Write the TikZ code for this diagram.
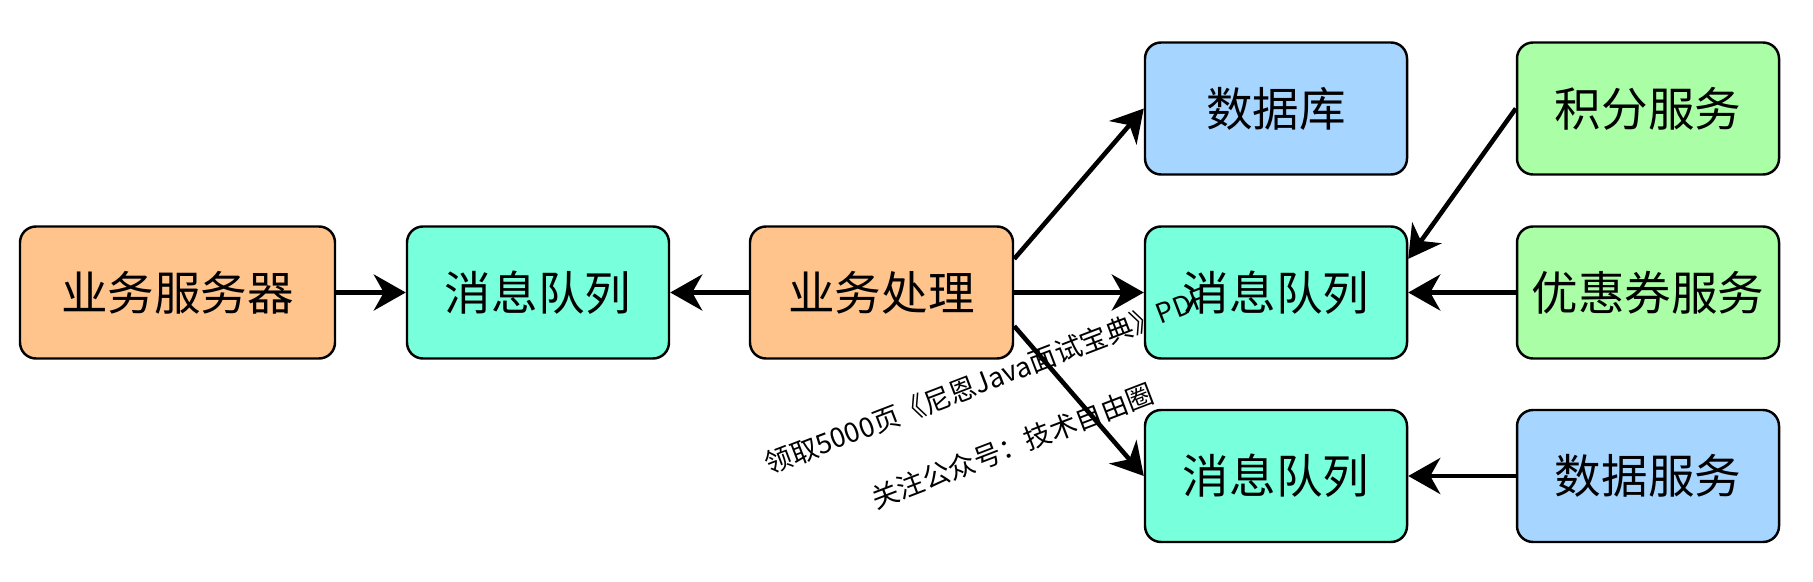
\documentclass[tikz,border=0pt]{standalone}
\usepackage{fontspec}
\setmainfont{Noto Sans CJK SC}
\usetikzlibrary{calc,arrows.meta}

\definecolor{bizorange}{HTML}{FFC48C}
\definecolor{mqteal}{HTML}{78FFDC}
\definecolor{dataBlue}{HTML}{A6D5FF}
\definecolor{svcgreen}{HTML}{AAFFA6}

\begin{document}
\begin{tikzpicture}[scale=1.0,
	box/.style={draw, line width=1.4pt, rounded corners=0.32cm,
		minimum width=5.24cm, minimum height=2.64cm,
		font=\fontsize{26.5}{30}\selectfont},
	flow/.style={line width=2.6pt,
		-{Stealth[length=0.64cm,width=0.72cm,inset=0.2cm]}},
	wmtext/.style={rotate=21, font=\fontsize{15.5}{18}\selectfont}]

% canvas %{{{2

	\useasboundingbox (0,0) rectangle (36.26,11.62);

% left column %{{{2

	\node[box, fill=bizorange, minimum width=6.3cm] (srv) at (3.55,5.77) {业务服务器};
	\node[box, fill=mqteal] (mqa) at (10.76,5.77) {消息队列};
	\node[box, fill=bizorange, minimum width=5.26cm] (biz) at (17.63,5.77) {业务处理};

% middle column %{{{2

	\node[box, fill=dataBlue] (db) at (25.52,9.45) {数据库};
	\node[box, fill=mqteal] (mqb) at (25.52,5.77) {消息队列};
	\node[box, fill=mqteal] (mqc) at (25.52,2.1) {消息队列};

% right column %{{{2

	\node[box, fill=svcgreen] (jf) at (32.96,9.45) {积分服务};
	\node[box, fill=svcgreen] (yhq) at (32.96,5.77) {优惠券服务};
	\node[box, fill=dataBlue] (sj) at (32.96,2.1) {数据服务};

% connectors %{{{2

	\draw[flow] (srv) -- (mqa);
	\draw[flow] (biz) -- (mqa);
	\draw[flow] ($(biz.north east)!0.25!(biz.south east)$) -- (db.west);
	\draw[flow] (biz) -- (mqb);
	\draw[flow] ($(biz.north east)!0.75!(biz.south east)$) -- (mqc.west);
	\draw[flow] (jf.west) -- ($(mqb.north east)!0.25!(mqb.south east)$);
	\draw[flow] (yhq) -- (mqb);
	\draw[flow] (sj) -- (mqc);

% watermark %{{{2

	\node[wmtext] (wma) at (19.71,4.0) {领取5000页《尼恩Java面试宝典》PDF};
	\node[wmtext] (wmb) at (20.25,2.7) {关注公众号：技术自由圈};

\end{tikzpicture}
\end{document}
